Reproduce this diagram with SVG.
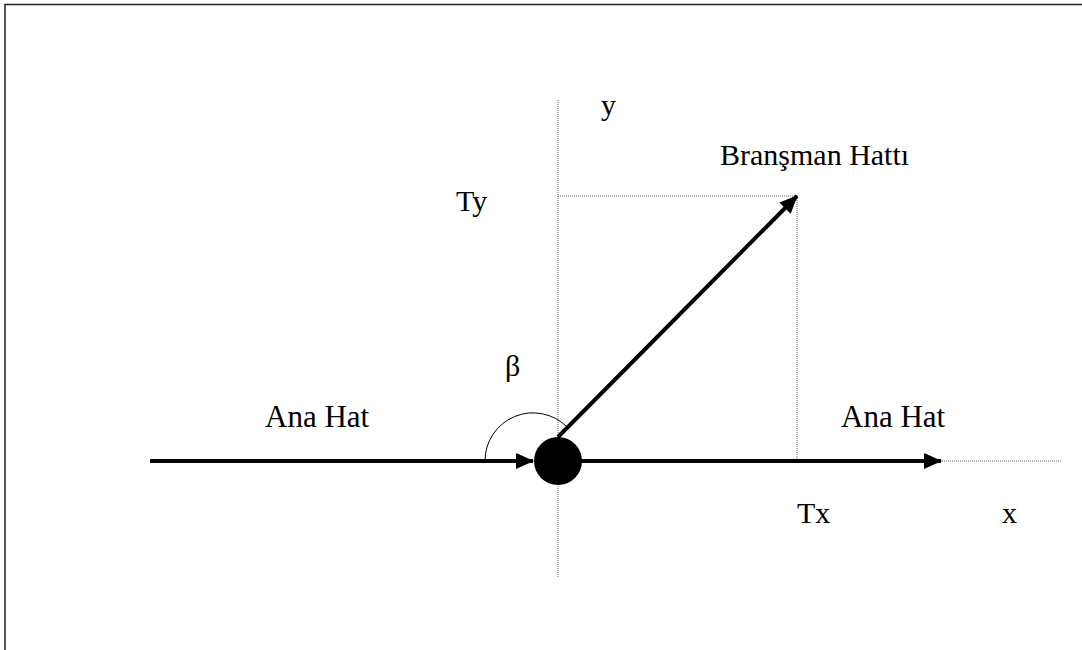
<svg xmlns="http://www.w3.org/2000/svg" width="1082" height="650" viewBox="0 0 1082 650">
<defs>
<style>
text{font-family:"Liberation Serif","Times New Roman",serif;font-size:30px;fill:#000}
.dot{stroke:#666;stroke-width:1;stroke-dasharray:1 1;fill:none}
.thick{stroke:#000;stroke-width:4;fill:none}
</style>
<marker id="ah" markerWidth="18" markerHeight="16" refX="17" refY="8" orient="auto" markerUnits="userSpaceOnUse">
<path d="M0,0 L18,8 L0,16 Z" fill="#000"/>
</marker>
</defs>
<rect x="0" y="0" width="1082" height="650" fill="#fff"/>
<path d="M5,650 L5,4.5 L1082,4.5" stroke="#222" stroke-width="1.5" fill="none"/>
<g id="connectors">
<line class="dot" x1="558" y1="100" x2="558" y2="578"/>
<line class="dot" x1="558" y1="196" x2="797" y2="196"/>
<line class="dot" x1="797" y1="196" x2="797" y2="461"/>
<line class="dot" x1="940" y1="461" x2="1062" y2="461"/>
<path d="M485,461 A48,48 0 0 1 567,427" stroke="#000" stroke-width="1" fill="none"/>
<line class="thick" x1="150" y1="461" x2="533" y2="461" marker-end="url(#ah)"/>
<line class="thick" x1="558" y1="461" x2="941" y2="461" marker-end="url(#ah)"/>
<line class="thick" x1="558" y1="437" x2="797" y2="196" marker-end="url(#ah)"/>
</g>
<g id="node">
<circle cx="558" cy="461" r="24" fill="#000"/>
</g>
<g id="labels">
<text x="601" y="115">y</text>
<text x="720" y="165">Branşman Hattı</text>
<text x="456" y="211">Ty</text>
<text x="505" y="376">β</text>
<text x="265" y="427" style="font-size:31px">Ana Hat</text>
<text x="841" y="427" style="font-size:31px">Ana Hat</text>
<text x="797" y="523">Tx</text>
<text x="1002" y="523">x</text>
</g>
</svg>
